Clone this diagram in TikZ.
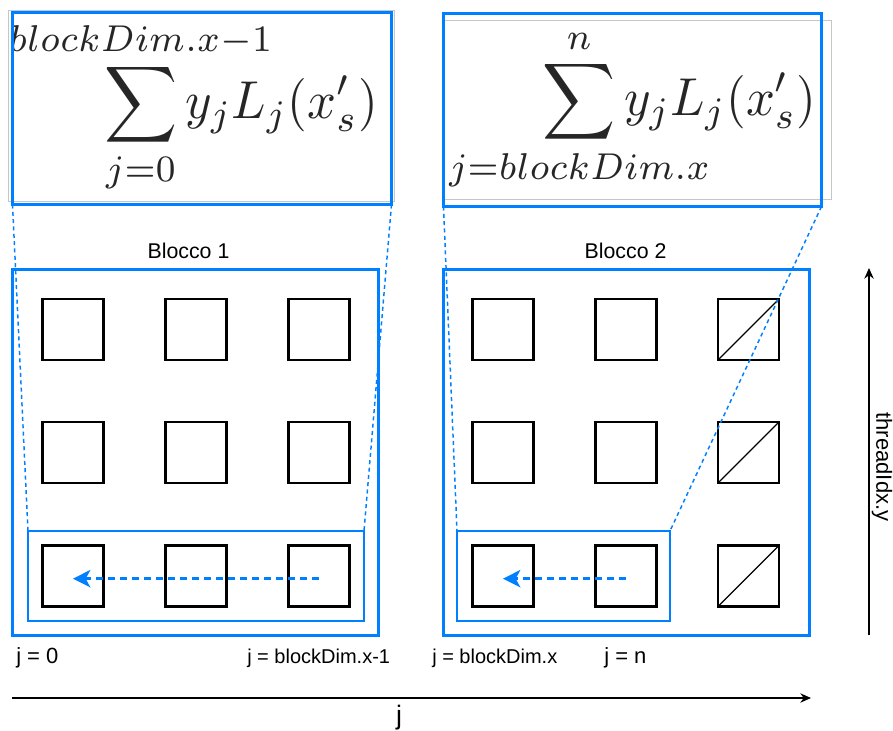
\documentclass[tikz,border=0pt]{standalone}
\usepackage{fontspec}
\usepackage{graphicx}
\usepackage{mathtools}
\usepackage{tikz}
\usetikzlibrary{arrows.meta}
\newfontfamily\labelfont{Liberation Sans}
\definecolor{zoomblue}{RGB}{0,127,255}

\begin{document}
\begin{tikzpicture}[x=0.75pt,y=-0.75pt,>=Stealth,
  thread/.style={draw,line width=2pt,minimum size=45.75pt,inner sep=0pt,outer sep=0pt},
  bluebox/.style={draw=zoomblue,line width=2.2pt,inner sep=0pt,outer sep=0pt},
  zoomline/.style={zoomblue,line width=1.1pt,dash pattern=on 3pt off 2.5pt},
  loopline/.style={-{Stealth[length=13pt,width=13pt,inset=3.5pt]},zoomblue,line width=1.9pt,dash pattern=on 5pt off 4pt},
  axis/.style={-{Stealth[length=8pt,width=7pt]},line width=1pt},
  lbl/.style={font=\labelfont\fontsize{15}{18}\selectfont,inner sep=0pt}]
  \useasboundingbox (0,0) rectangle (893,731);

  % formula boxes (zoom of the bottom rows)
  \draw[gray!45,line width=0.6pt] (8,10) rectangle (394,201);
  \draw[gray!45,line width=0.6pt] (443,20) rectangle (831,199);
  \node[inner sep=0pt,text=black!85] (sum1) at (241,107)
    {\scalebox{3.8}[4.0]{$\displaystyle\sum_{\mathclap{j=0}}^{\mathclap{blockDim.x-1}}y_jL_j(x'_s)$}};
  \node[inner sep=0pt,text=black!85] (sum2) at (679.5,110)
    {\scalebox{3.8}[4.0]{$\displaystyle\sum_{\mathclap{j=blockDim.x}}^{\mathclap{n}}y_jL_j(x'_s)$}};
  \node[bluebox,minimum width=284.25pt,minimum height=144pt] (f1) at (202,108.5) {};
  \node[bluebox,minimum width=283.5pt,minimum height=144.75pt] (f2) at (632.5,110) {};

  % blocks
  \node[bluebox,minimum width=274.5pt,minimum height=274.5pt] (blk1) at (195.5,452.5) {};
  \node[bluebox,minimum width=274.5pt,minimum height=274.5pt] (blk2) at (626.5,452.5) {};
  \node[font=\labelfont\fontsize{16}{19}\selectfont,anchor=base,inner sep=0pt] (t1) at (188.5,258) {Blocco 1};
  \node[font=\labelfont\fontsize{16}{19}\selectfont,anchor=base,inner sep=0pt] (t2) at (625.5,258) {Blocco 2};

  % threads
  \foreach \r/\y in {1/329.5,2/452.5,3/576} {
    \foreach \c/\x in {1/73,2/196,3/319}
      \node[thread] (a\r\c) at (\x,\y) {};
    \foreach \c/\x in {1/503,2/626,3/748.5}
      \node[thread] (b\r\c) at (\x,\y) {};
    \draw[line width=0.9pt] (b\r3.south west) -- (b\r3.north east);
  }

  % bottom rows being reduced
  \node[bluebox,line width=2pt,minimum width=252pt,minimum height=67.5pt] (row1) at (196,576) {};
  \node[bluebox,line width=2pt,minimum width=159.75pt,minimum height=67.5pt] (row2) at (563.5,576) {};
  \draw[loopline] ([yshift=-2pt]a33.center) -- ([yshift=-2pt]a31.center);
  \draw[loopline] ([yshift=-2pt]b32.center) -- ([yshift=-2pt]b31.center);

  % zoom lines
  \draw[zoomline] (f1.south west) -- (row1.north west);
  \draw[zoomline] (f1.south east) -- (row1.north east);
  \draw[zoomline] (f2.south west) -- (row2.north west);
  \draw[zoomline] (f2.south east) -- (row2.north east);

  % index labels
  \node[lbl,font=\labelfont\fontsize{16.5}{19}\selectfont,anchor=base west] (j0) at (16,663) {j = 0};
  \node[lbl,anchor=base west] (j1) at (247,663) {j = blockDim.x-1};
  \node[lbl,anchor=base west] (j2) at (432,663) {j = blockDim.x};
  \node[lbl,font=\labelfont\fontsize{16.5}{19}\selectfont,anchor=base west] (j3) at (604,663) {j = n};

  % axes
  \coordinate (jstart) at (12,698);
  \coordinate (jend) at (811,698);
  \draw[axis] (jstart) -- (jend);
  \node[font=\labelfont\fontsize{20}{24}\selectfont,anchor=base,inner sep=0pt] (jlbl) at (399,724) {j};
  \coordinate (ystart) at (869,635);
  \coordinate (yend) at (869,268);
  \draw[axis] (ystart) -- (yend);
  \node[font=\labelfont\fontsize{16.5}{20}\selectfont,rotate=-90,inner sep=0pt] (ylbl) at (882,467) {threadIdx.y};
\end{tikzpicture}
\end{document}
